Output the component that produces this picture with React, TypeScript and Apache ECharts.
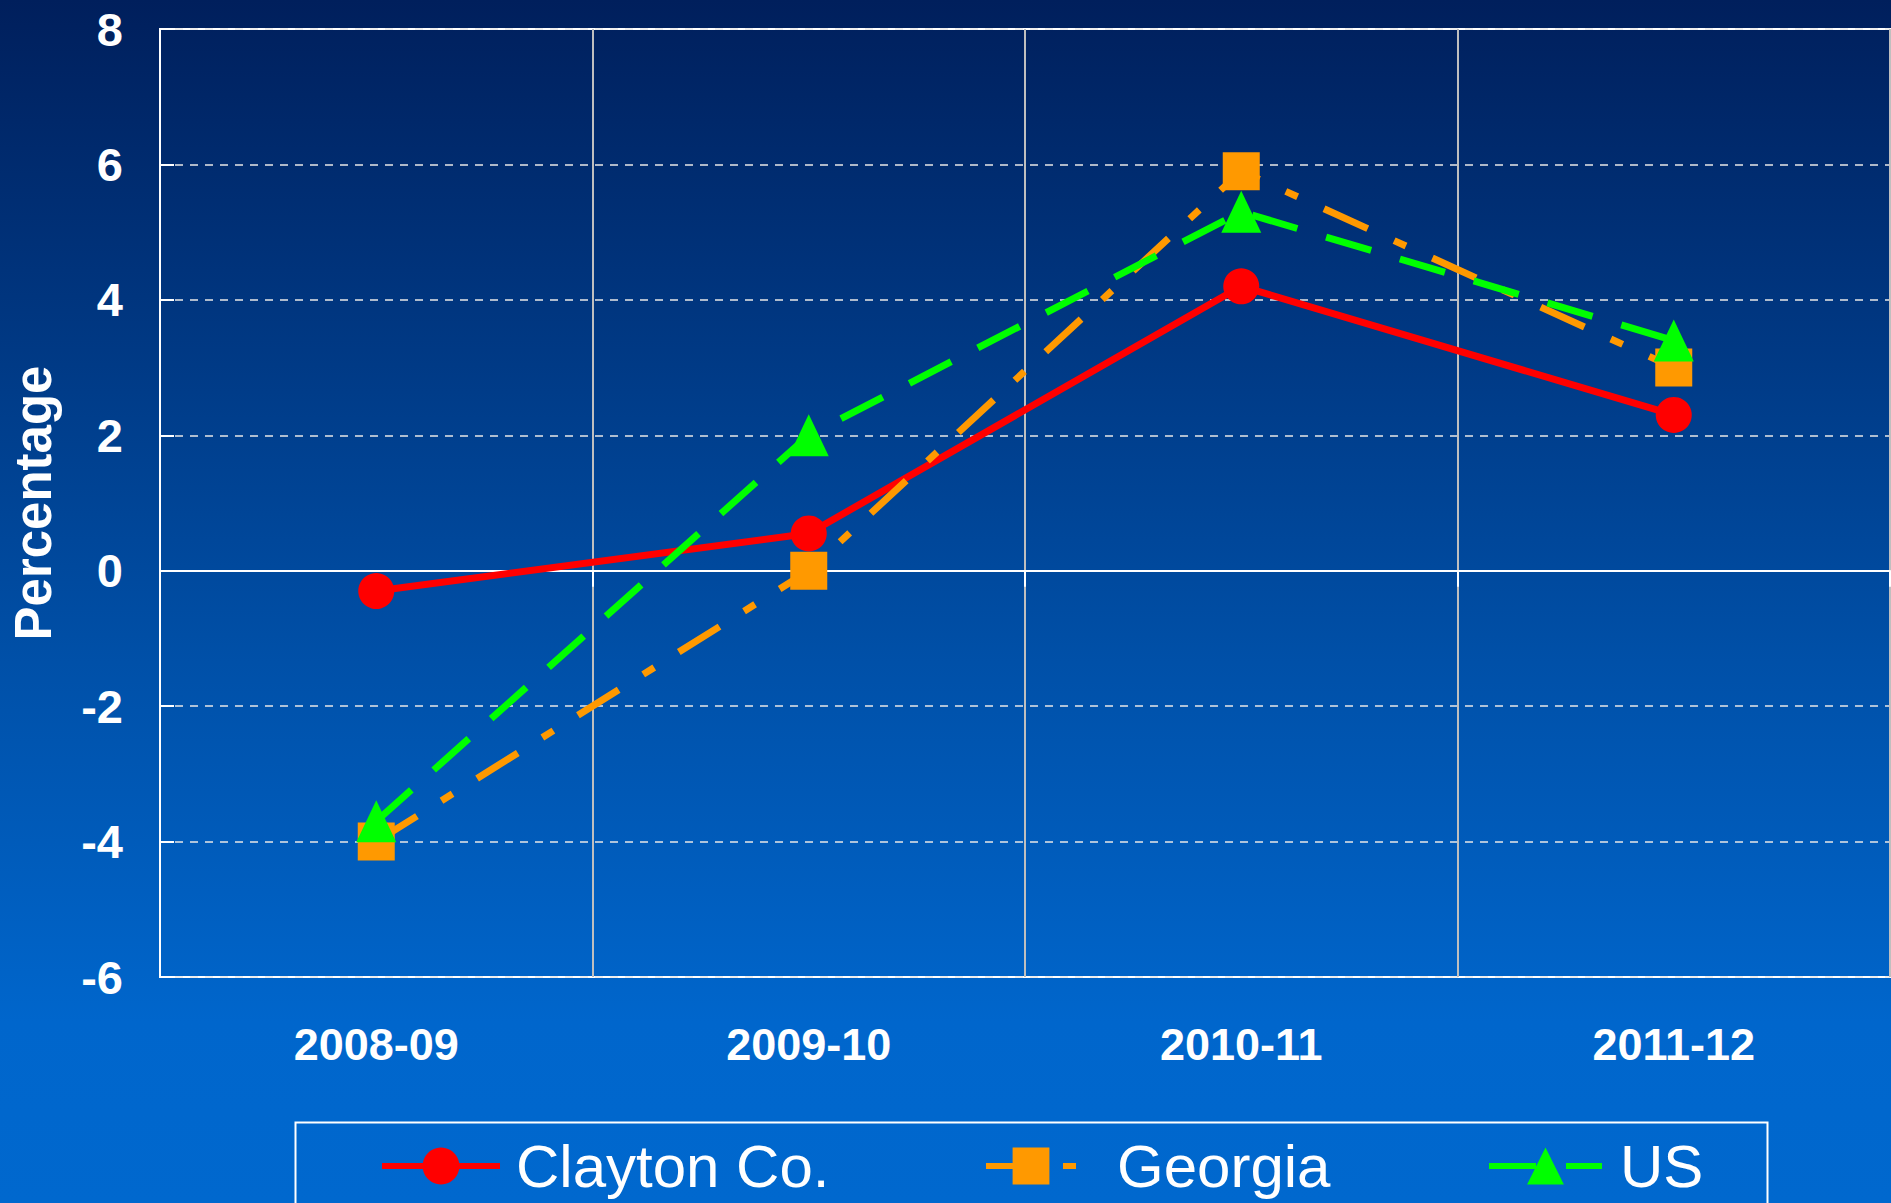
import React, { useEffect, useRef } from "react";
import * as echarts from "echarts";

const categories = ["2008-09", "2009-10", "2010-11", "2011-12"];
const claytonValues = [-0.3, 0.55, 4.2, 2.3];
const georgiaValues = [-4.0, 0.0, 5.9, 3.0];
const usValues = [-3.7, 2.0, 5.3, 3.4];
const seriesNames = ["Clayton Co.", "Georgia", "US"];
const yAxisName = "Percentage";

const ARIAL = "'Liberation Sans', Arial, sans-serif";

const RED = "#FF0000";
const ORANGE = "#FF9900";
const GREEN = "#00FF00";
const GEORGIA_DASH = [48, 29, 13, 29];
const US_DASH = [47, 30];

export default function App() {
  const ref = useRef<HTMLDivElement>(null);

  useEffect(() => {
    if (!ref.current) return;
    const chart = echarts.init(ref.current, null, { renderer: "svg" });
    const legendText = {
      color: "#ffffff",
      fontFamily: ARIAL,
      fontSize: 60,
      lineHeight: 60,
    };
    const option: any = {
      animation: false,
      backgroundColor: "transparent",
      grid: {
        left: 160,
        right: 1,
        top: 29,
        bottom: 226,
        show: true,
        borderColor: "#ffffff",
        borderWidth: 2,
        backgroundColor: "transparent",
      },
      xAxis: [
        {
          type: "category",
          data: categories,
          position: "bottom",
          boundaryGap: true,
          axisLine: { show: false, onZero: false },
          axisTick: { show: false },
          axisLabel: {
            color: "#ffffff",
            fontFamily: ARIAL,
            fontWeight: "bold",
            fontSize: 45,
            lineHeight: 45,
            margin: 45,
          },
          splitLine: { show: true, lineStyle: { color: "#BFBFBF", width: 2 } },
        },
        {
          type: "category",
          data: categories,
          position: "top",
          boundaryGap: true,
          axisLine: { show: true, onZero: true, lineStyle: { color: "#ffffff", width: 2 } },
          axisTick: { show: true, inside: true, length: 16, lineStyle: { color: "#ffffff", width: 2 } },
          axisLabel: { show: false },
          splitLine: { show: false },
        },
      ],
      yAxis: {
        type: "value",
        min: -6,
        max: 8,
        interval: 2,
        name: yAxisName,
        nameLocation: "middle",
        nameGap: 101,
        nameTextStyle: {
          color: "#ffffff",
          fontFamily: ARIAL,
          fontWeight: "bold",
          fontSize: 51,
          lineHeight: 51,
        },
        axisLine: { show: true, lineStyle: { color: "#ffffff", width: 2 } },
        axisTick: { show: true, inside: true, length: 14, lineStyle: { color: "#ffffff", width: 2 } },
        axisLabel: {
          color: "#ffffff",
          fontFamily: ARIAL,
          fontWeight: "bold",
          fontSize: 47,
          margin: 37,
        },
        splitLine: {
          show: true,
          lineStyle: { color: "#E8E8E8", width: 1.5, type: [8, 7] },
        },
      },
      legend: [
        {
          data: [seriesNames[0]],
          left: 379,
          top: 1136,
          padding: 0,
          itemWidth: 118,
          itemHeight: 46,
          lineStyle: { color: RED, width: 6, type: "solid" },
          textStyle: { ...legendText, padding: [0, 0, 0, 11] },
        },
        {
          data: [seriesNames[1]],
          left: 983,
          top: 1136,
          padding: 0,
          itemWidth: 90,
          itemHeight: 46,
          lineStyle: { color: ORANGE, width: 6, type: GEORGIA_DASH },
          textStyle: { ...legendText, padding: [0, 0, 0, 36] },
        },
        {
          data: [seriesNames[2]],
          left: 1486,
          top: 1136,
          padding: 0,
          itemWidth: 113,
          itemHeight: 46,
          lineStyle: { color: GREEN, width: 6, type: US_DASH },
          textStyle: { ...legendText, padding: [0, 0, 0, 13] },
        },
      ],
      graphic: [
        {
          type: "rect",
          left: 293,
          top: 1120,
          shape: { width: 1472, height: 200 },
          style: { fill: "none", stroke: "#ffffff", lineWidth: 2 },
          silent: true,
        },
      ],
      series: [
        {
          name: seriesNames[0],
          type: "line",
          data: claytonValues,
          symbol: "circle",
          symbolSize: 36,
          lineStyle: { color: RED, width: 7, type: "solid" },
          itemStyle: { color: RED },
          z: 3,
        },
        {
          name: seriesNames[1],
          type: "line",
          data: georgiaValues,
          symbol: "rect",
          symbolSize: [37, 38],
          lineStyle: { color: ORANGE, width: 7, type: GEORGIA_DASH },
          itemStyle: { color: ORANGE },
          z: 4,
        },
        {
          name: seriesNames[2],
          type: "line",
          data: usValues,
          symbol: "triangle",
          symbolSize: [40, 42],
          lineStyle: { color: GREEN, width: 7, type: US_DASH },
          itemStyle: { color: GREEN },
          z: 5,
        },
      ],
    };
    chart.setOption(option);
    return () => chart.dispose();
  }, []);

  return (
    <div
      ref={ref}
      style={{
        position: "fixed",
        left: 0,
        top: 0,
        width: 1891,
        height: 1203,
        background: "linear-gradient(to bottom, #001F5C 0%, #0050A8 55%, #0066CC 85%, #0068CE 100%)",
      }}
    />
  );
}
